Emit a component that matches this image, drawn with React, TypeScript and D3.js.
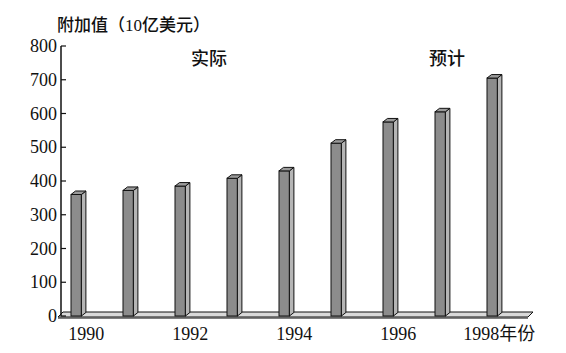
import React, { useEffect, useRef } from 'react'
import * as d3 from 'd3'

const years = [1990, 1991, 1992, 1993, 1994, 1995, 1996, 1997, 1998]
const values = [360, 372, 385, 408, 430, 512, 575, 605, 705]
const yTicks = [0, 100, 200, 300, 400, 500, 600, 700, 800]
const xLabels = ['1990', '1992', '1994', '1996', '1998年份']
const xLabelYears = [1990, 1992, 1994, 1996, 1998]

const W = 566
const H = 353
const FONT = '"Liberation Serif", "Noto Sans CJK SC", serif'

const App: React.FC = () => {
    const ref = useRef<any>()
    useEffect(() => {
        const svg = d3.select(ref.current).select('svg')
        const y = d3.scaleLinear().domain([0, 800]).range([316, 46])
        const x = d3
            .scaleBand<number>()
            .domain(years)
            .range([71, 497.4])
            .paddingInner(0.8)
            .paddingOuter(0)
        const dx = 4.5
        const dy = -3.5
        const axisX = 61

        // floor slab
        const floor = svg.select('.floor')
        const fl = axisX - 3
        const fr = 528
        const fb = y(0) + 1
        floor
            .selectAll('path')
            .data([0])
            .join('path')
            .attr(
                'd',
                `M${fl},${fb} L${fr},${fb} L${fr + 5},${fb - 5} L${fl + 5},${fb - 5} Z`
            )
            .attr('fill', '#d9d9d9')
            .attr('stroke', '#111')
            .attr('stroke-width', 1)
        floor
            .selectAll('line')
            .data([0])
            .join('line')
            .attr('x1', fl)
            .attr('x2', fr)
            .attr('y1', fb + 1)
            .attr('y2', fb + 1)
            .attr('stroke', '#555')
            .attr('stroke-width', 1.5)

        // y axis
        const yaxis = svg.select('.yaxis')
        yaxis
            .selectAll('line.dom')
            .data([0])
            .join('line')
            .attr('class', 'dom')
            .attr('x1', axisX)
            .attr('x2', axisX)
            .attr('y1', y(800))
            .attr('y2', y(0))
            .attr('stroke', '#111')
            .attr('stroke-width', 1.5)
        yaxis
            .selectAll('line.tick')
            .data(yTicks)
            .join('line')
            .attr('class', 'tick')
            .attr('x1', axisX)
            .attr('x2', axisX + 5)
            .attr('y1', (d) => y(d))
            .attr('y2', (d) => y(d))
            .attr('stroke', '#111')
            .attr('stroke-width', 1.2)
        yaxis
            .selectAll('text')
            .data(yTicks)
            .join('text')
            .attr('x', axisX - 4)
            .attr('y', (d) => y(d) + 6)
            .attr('text-anchor', 'end')
            .attr('style', `font-size: 18px; font-family: ${FONT}`)
            .attr('fill', '#111')
            .text((d) => d)

        // bars
        const bars = svg.select('.bars')
        const bw = x.bandwidth()
        const g = bars
            .selectAll('g')
            .data(years.map((yr, i) => ({ yr, v: values[i] })))
            .join('g')
        g.append('rect')
            .attr('x', (d) => x(d.yr)!)
            .attr('y', (d) => y(d.v))
            .attr('width', bw)
            .attr('height', (d) => y(0) - y(d.v))
            .attr('fill', '#8c8c8c')
            .attr('stroke', '#111')
            .attr('stroke-width', 1)
        g.append('path')
            .attr('d', (d) => {
                const x0 = x(d.yr)! + bw
                const t = y(d.v)
                const b = y(0)
                return `M${x0},${t} L${x0 + dx},${t + dy} L${x0 + dx},${b + dy} L${x0},${b} Z`
            })
            .attr('fill', '#b5b5b5')
            .attr('stroke', '#111')
            .attr('stroke-width', 1)
        g.append('path')
            .attr('d', (d) => {
                const x0 = x(d.yr)!
                const t = y(d.v)
                return `M${x0},${t} L${x0 + dx},${t + dy} L${x0 + bw + dx},${t + dy} L${x0 + bw},${t} Z`
            })
            .attr('fill', '#9a9a9a')
            .attr('stroke', '#111')
            .attr('stroke-width', 1)

        // x labels
        svg.select('.xaxis')
            .selectAll('text')
            .data(xLabelYears.map((yr, i) => ({ yr, label: xLabels[i] })))
            .join('text')
            .attr('x', (d) => x(d.yr)! + bw / 2 + (d.label.length > 4 ? 7 : 10))
            .attr('y', 340)
            .attr('text-anchor', 'middle')
            .attr('style', `font-size: 18px; font-family: ${FONT}`)
            .attr('fill', '#111')
            .text((d) => d.label)
    }, [])
    return (
        <div ref={ref} style={{ position: 'absolute', left: 0, top: 0, width: W, height: H }}>
            <svg width={W} height={H} viewBox={`0 0 ${W} ${H}`} style={{ display: 'block', background: '#fff' }}>
                <g className='floor'></g>
                <g className='bars'></g>
                <g className='yaxis'></g>
                <g className='xaxis'></g>
                <text x={57} y={31} style={{ fontSize: 17, fontFamily: FONT, fontWeight: 500 }} fill='#111'>
                    附加值（10亿美元）
                </text>
                <text x={209} y={65} textAnchor='middle' style={{ fontSize: 18, fontFamily: FONT, fontWeight: 500 }} fill='#111'>
                    实际
                </text>
                <text x={447} y={65} textAnchor='middle' style={{ fontSize: 18, fontFamily: FONT, fontWeight: 500 }} fill='#111'>
                    预计
                </text>
            </svg>
        </div>
    )
}

export default App
